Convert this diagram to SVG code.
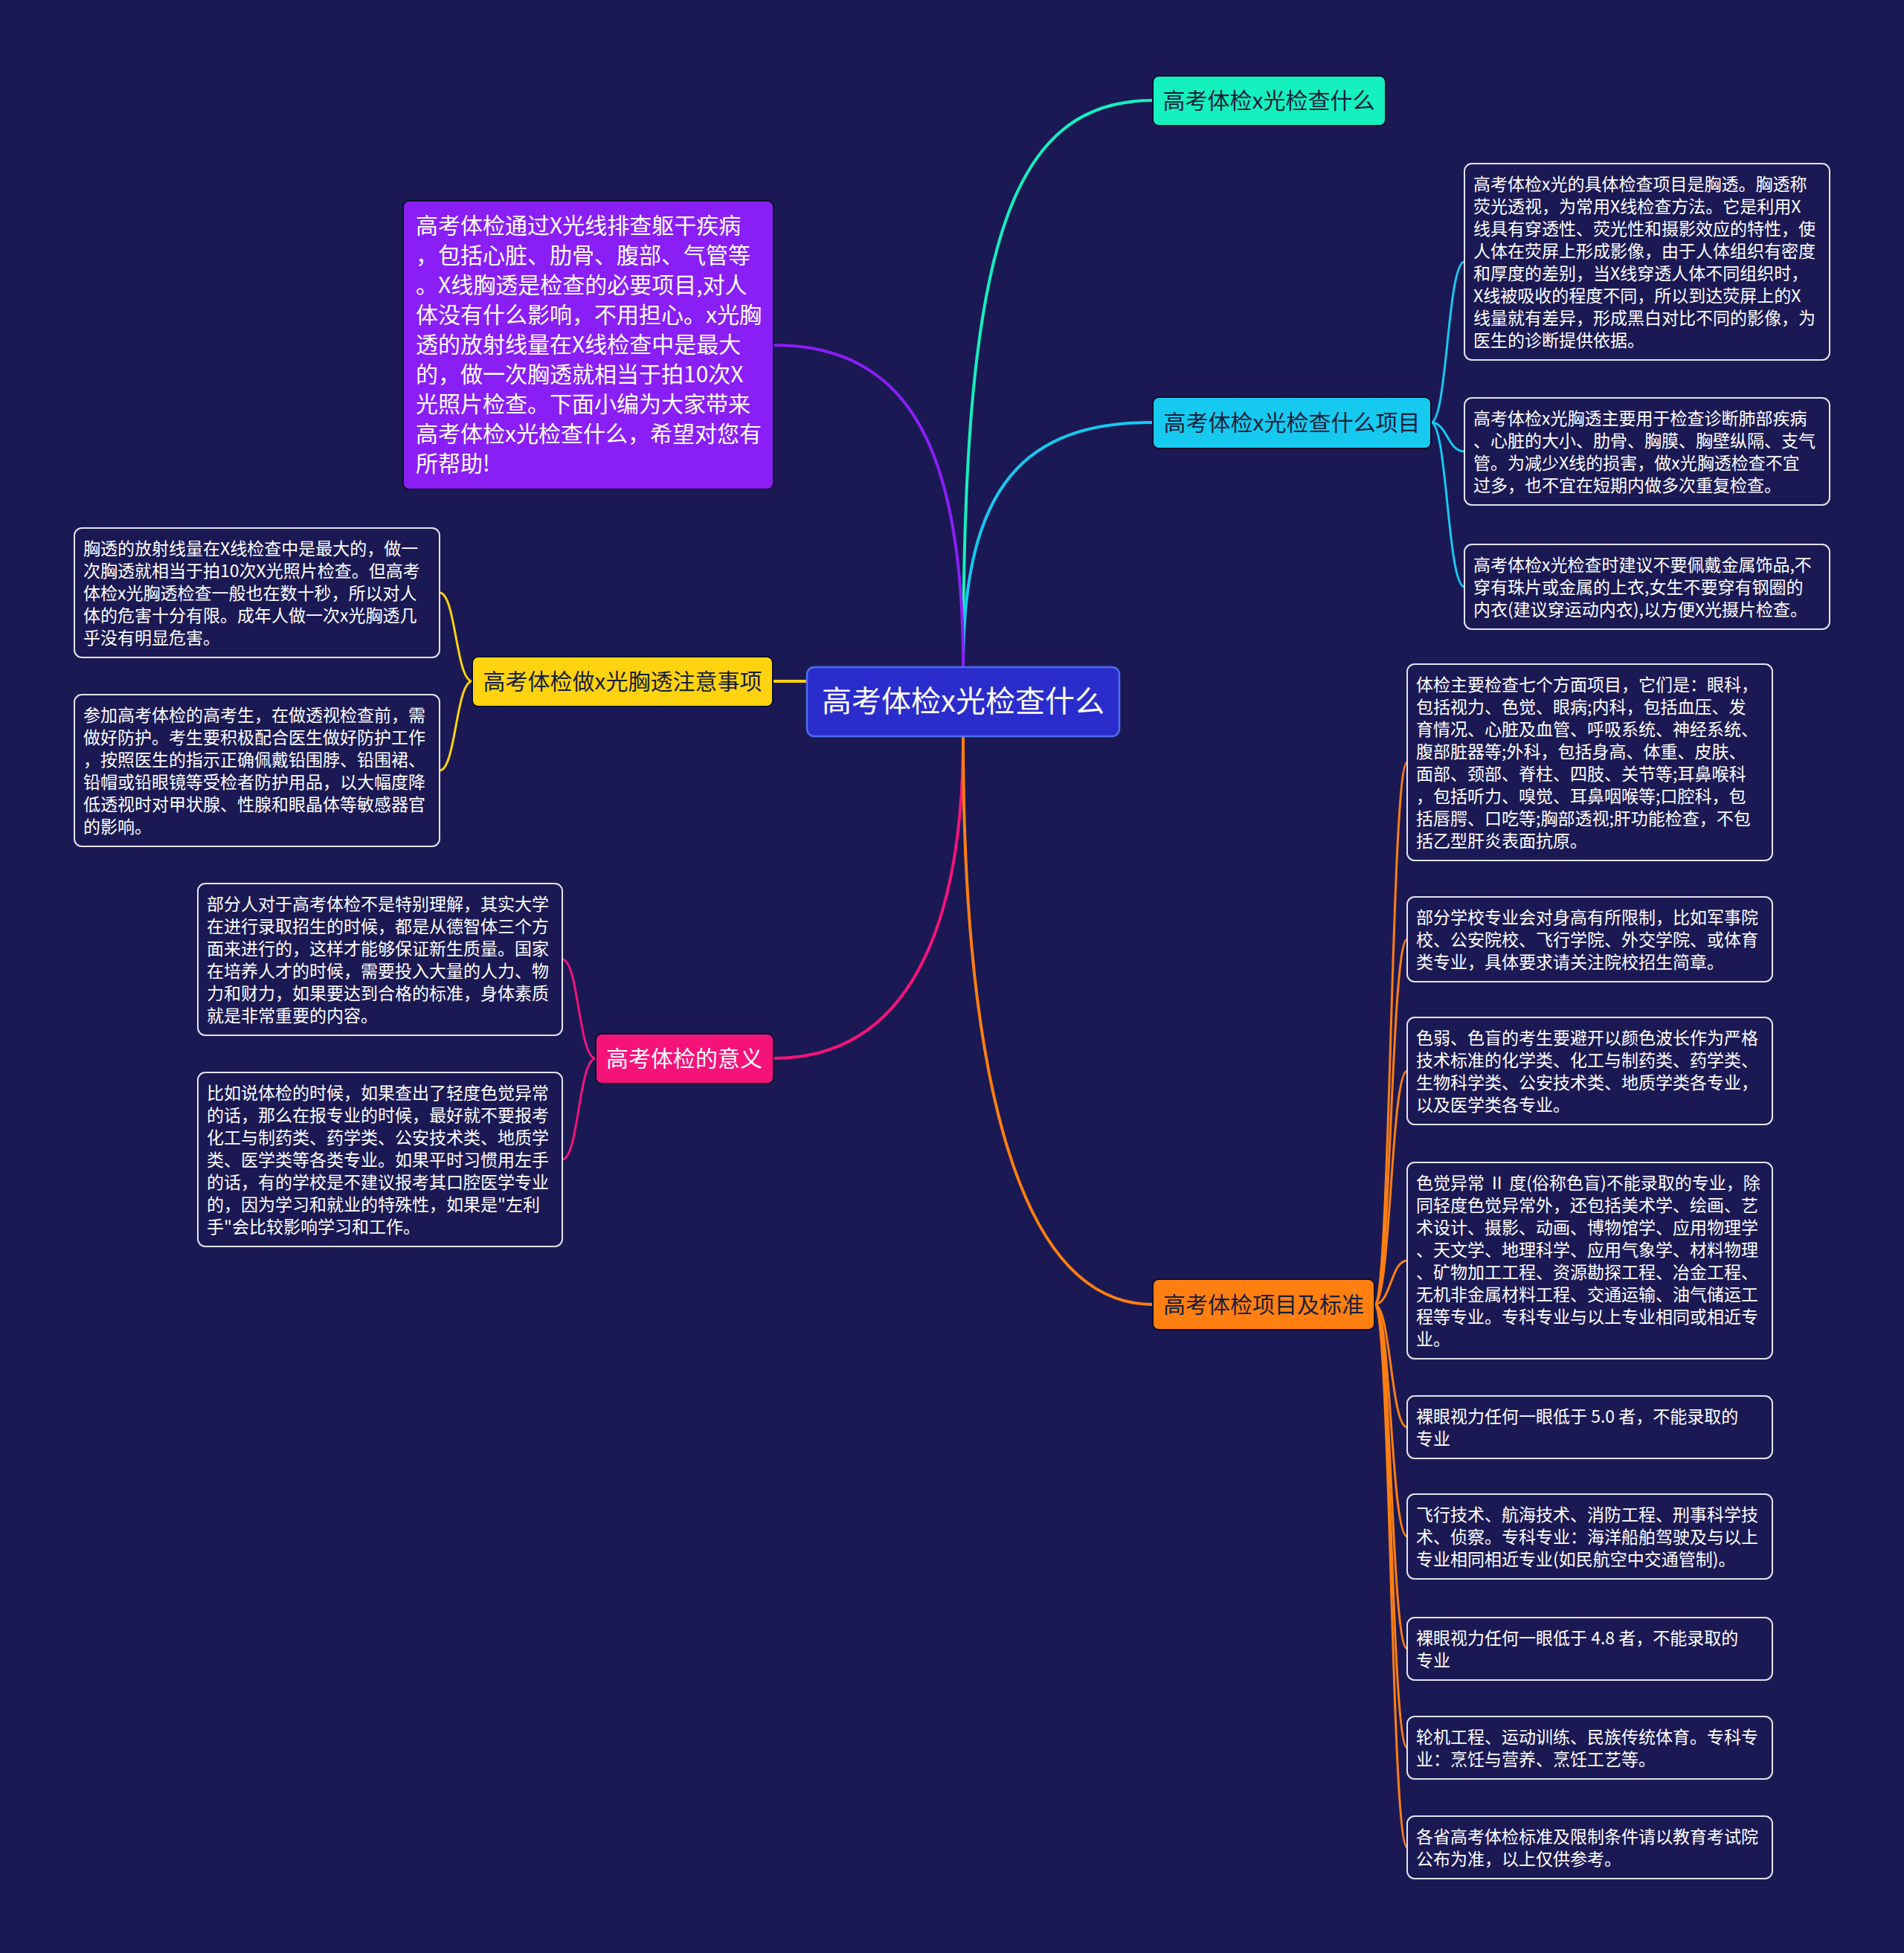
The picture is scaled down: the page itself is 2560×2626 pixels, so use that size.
<svg xmlns="http://www.w3.org/2000/svg" width="2560" height="2626" viewBox="0 0 2560 2626">
<style>
.bg{fill:#1b1954}
.leaf rect{fill:#1b1954;stroke:#e4e4ef;stroke-width:2}
.leaf text{font-family:"Noto Sans CJK SC","Noto Sans",sans-serif;font-size:23px;fill:#ffffff}
.l1 rect{stroke:#0c0c2a;stroke-width:2}
.l1 text{font-family:"Noto Sans CJK SC","Noto Sans",sans-serif;font-size:30px;text-anchor:middle}
.dark{fill:#17203a}
.light{fill:#ffffff}
.main{fill:none;stroke-width:4;stroke-linecap:round}
.sub{fill:none;stroke-width:3;stroke-linecap:round}
</style>
<rect class="bg" x="0" y="0" width="2560" height="2626"/>
<g id="connectors">
<path class="main" stroke="#14f0be" d="M1295,897 C1295,350 1350,135 1550,135"/>
<path class="main" stroke="#16c9ef" d="M1295,897 C1295,650 1380,568 1550,568"/>
<path class="main" stroke="#8a1ff5" d="M1295,897 C1295,600 1220,464 1040,464"/>
<path class="main" stroke="#ffd30f" d="M1085,916 L1040,916"/>
<path class="main" stroke="#f5137a" d="M1295,990 C1295,1250 1220,1423 1040,1423"/>
<path class="main" stroke="#ff7f11" d="M1295,990 C1295,1450 1370,1754 1550,1754"/>
<g stroke="#16c9ef">
<path class="sub" d="M1924,568 C1946,568 1946,352 1969,352"/>
<path class="sub" d="M1924,568 C1946,568 1946,607 1969,607"/>
<path class="sub" d="M1924,568 C1946,568 1946,789 1969,789"/>
</g>
<g stroke="#ffd30f">
<path class="sub" d="M635,916 C613,916 613,797 591,797"/>
<path class="sub" d="M635,916 C613,916 613,1036 591,1036"/>
</g>
<g stroke="#f5137a">
<path class="sub" d="M801,1423 C778,1423 778,1290 756,1290"/>
<path class="sub" d="M801,1423 C778,1423 778,1559 756,1559"/>
</g>
<g stroke="#ff7f11">
<path class="sub" d="M1848,1754 C1870,1754 1870,1025 1892,1025"/>
<path class="sub" d="M1848,1754 C1870,1754 1870,1263 1892,1263"/>
<path class="sub" d="M1848,1754 C1870,1754 1870,1440 1892,1440"/>
<path class="sub" d="M1848,1754 C1870,1754 1870,1695 1892,1695"/>
<path class="sub" d="M1848,1754 C1870,1754 1870,1919 1892,1919"/>
<path class="sub" d="M1848,1754 C1870,1754 1870,2066 1892,2066"/>
<path class="sub" d="M1848,1754 C1870,1754 1870,2217 1892,2217"/>
<path class="sub" d="M1848,1754 C1870,1754 1870,2350 1892,2350"/>
<path class="sub" d="M1848,1754 C1870,1754 1870,2484 1892,2484"/>
</g>
</g>
<g id="root">
<rect x="1085" y="897" width="420" height="93" rx="10" fill="#2b2ccc" stroke="#4c6ff0" stroke-width="2.5"/>
<text x="1295" y="957" font-family="'Noto Sans CJK SC','Noto Sans',sans-serif" font-size="40" fill="#ffffff" text-anchor="middle">高考体检x光检查什么</text>
</g>
<g id="n-teal" class="l1">
<rect x="1550" y="102" width="313" height="67" rx="8" fill="#14f0be"/>
<text class="dark" x="1706" y="146">高考体检x光检查什么</text>
</g>
<g id="n-cyan" class="l1">
<rect x="1550" y="534" width="374" height="69" rx="8" fill="#16c9ef"/>
<text class="dark" x="1737" y="579">高考体检x光检查什么项目</text>
</g>
<g id="n-orange" class="l1">
<rect x="1550" y="1720" width="298" height="68" rx="8" fill="#ff7f11"/>
<text class="dark" x="1699" y="1765">高考体检项目及标准</text>
</g>
<g id="n-yellow" class="l1">
<rect x="635" y="883" width="404" height="67" rx="8" fill="#ffd30f"/>
<text class="dark" x="837" y="927">高考体检做x光胸透注意事项</text>
</g>
<g id="n-pink" class="l1">
<rect x="801" y="1390" width="239" height="67" rx="8" fill="#f5137a"/>
<text class="light" x="920" y="1434">高考体检的意义</text>
</g>
<g id="n-purple" class="l1">
<rect x="542" y="270" width="498" height="388" rx="8" fill="#8a1ff5"/>
<text class="light" style="text-anchor:start" x="559">
<tspan x="559" y="314">高考体检通过X光线排查躯干疾病</tspan>
<tspan x="559" y="354">，包括心脏、肋骨、腹部、气管等</tspan>
<tspan x="559" y="394">。X线胸透是检查的必要项目,对人</tspan>
<tspan x="559" y="434">体没有什么影响，不用担心。x光胸</tspan>
<tspan x="559" y="474">透的放射线量在X线检查中是最大</tspan>
<tspan x="559" y="514">的，做一次胸透就相当于拍10次X</tspan>
<tspan x="559" y="554">光照片检查。下面小编为大家带来</tspan>
<tspan x="559" y="594">高考体检x光检查什么，希望对您有</tspan>
<tspan x="559" y="634">所帮助!</tspan>
</text>
</g>
<g id="leaf-a" class="leaf">
<rect x="1969" y="220" width="491" height="264" rx="10"/>
<text>
<tspan x="1981" y="256">高考体检x光的具体检查项目是胸透。胸透称</tspan>
<tspan x="1981" y="286">荧光透视，为常用X线检查方法。它是利用X</tspan>
<tspan x="1981" y="316">线具有穿透性、荧光性和摄影效应的特性，使</tspan>
<tspan x="1981" y="346">人体在荧屏上形成影像，由于人体组织有密度</tspan>
<tspan x="1981" y="376">和厚度的差别，当X线穿透人体不同组织时，</tspan>
<tspan x="1981" y="406">X线被吸收的程度不同，所以到达荧屏上的X</tspan>
<tspan x="1981" y="436">线量就有差异，形成黑白对比不同的影像，为</tspan>
<tspan x="1981" y="466">医生的诊断提供依据。</tspan>
</text>
</g>
<g id="leaf-b" class="leaf">
<rect x="1969" y="535" width="491" height="144" rx="10"/>
<text>
<tspan x="1981" y="571">高考体检x光胸透主要用于检查诊断肺部疾病</tspan>
<tspan x="1981" y="601">、心脏的大小、肋骨、胸膜、胸壁纵隔、支气</tspan>
<tspan x="1981" y="631">管。为减少X线的损害，做x光胸透检查不宜</tspan>
<tspan x="1981" y="661">过多，也不宜在短期内做多次重复检查。</tspan>
</text>
</g>
<g id="leaf-c" class="leaf">
<rect x="1969" y="732" width="491" height="114" rx="10"/>
<text>
<tspan x="1981" y="768">高考体检x光检查时建议不要佩戴金属饰品,不</tspan>
<tspan x="1981" y="798">穿有珠片或金属的上衣,女生不要穿有钢圈的</tspan>
<tspan x="1981" y="828">内衣(建议穿运动内衣),以方便X光摄片检查。</tspan>
</text>
</g>
<g id="leaf-d" class="leaf">
<rect x="100" y="710" width="491" height="174" rx="10"/>
<text>
<tspan x="112" y="746">胸透的放射线量在X线检查中是最大的，做一</tspan>
<tspan x="112" y="776">次胸透就相当于拍10次X光照片检查。但高考</tspan>
<tspan x="112" y="806">体检x光胸透检查一般也在数十秒，所以对人</tspan>
<tspan x="112" y="836">体的危害十分有限。成年人做一次x光胸透几</tspan>
<tspan x="112" y="866">乎没有明显危害。</tspan>
</text>
</g>
<g id="leaf-e" class="leaf">
<rect x="100" y="934" width="491" height="204" rx="10"/>
<text>
<tspan x="112" y="970">参加高考体检的高考生，在做透视检查前，需</tspan>
<tspan x="112" y="1000">做好防护。考生要积极配合医生做好防护工作</tspan>
<tspan x="112" y="1030">，按照医生的指示正确佩戴铅围脖、铅围裙、</tspan>
<tspan x="112" y="1060">铅帽或铅眼镜等受检者防护用品，以大幅度降</tspan>
<tspan x="112" y="1090">低透视时对甲状腺、性腺和眼晶体等敏感器官</tspan>
<tspan x="112" y="1120">的影响。</tspan>
</text>
</g>
<g id="leaf-f" class="leaf">
<rect x="266" y="1188" width="490" height="204" rx="10"/>
<text>
<tspan x="278" y="1224">部分人对于高考体检不是特别理解，其实大学</tspan>
<tspan x="278" y="1254">在进行录取招生的时候，都是从德智体三个方</tspan>
<tspan x="278" y="1284">面来进行的，这样才能够保证新生质量。国家</tspan>
<tspan x="278" y="1314">在培养人才的时候，需要投入大量的人力、物</tspan>
<tspan x="278" y="1344">力和财力，如果要达到合格的标准，身体素质</tspan>
<tspan x="278" y="1374">就是非常重要的内容。</tspan>
</text>
</g>
<g id="leaf-g" class="leaf">
<rect x="266" y="1442" width="490" height="234" rx="10"/>
<text>
<tspan x="278" y="1478">比如说体检的时候，如果查出了轻度色觉异常</tspan>
<tspan x="278" y="1508">的话，那么在报专业的时候，最好就不要报考</tspan>
<tspan x="278" y="1538">化工与制药类、药学类、公安技术类、地质学</tspan>
<tspan x="278" y="1568">类、医学类等各类专业。如果平时习惯用左手</tspan>
<tspan x="278" y="1598">的话，有的学校是不建议报考其口腔医学专业</tspan>
<tspan x="278" y="1628">的，因为学习和就业的特殊性，如果是"左利</tspan>
<tspan x="278" y="1658">手"会比较影响学习和工作。</tspan>
</text>
</g>
<g id="leaf-h" class="leaf">
<rect x="1892" y="893" width="491" height="264" rx="10"/>
<text>
<tspan x="1904" y="929">体检主要检查七个方面项目，它们是：眼科，</tspan>
<tspan x="1904" y="959">包括视力、色觉、眼病;内科，包括血压、发</tspan>
<tspan x="1904" y="989">育情况、心脏及血管、呼吸系统、神经系统、</tspan>
<tspan x="1904" y="1019">腹部脏器等;外科，包括身高、体重、皮肤、</tspan>
<tspan x="1904" y="1049">面部、颈部、脊柱、四肢、关节等;耳鼻喉科</tspan>
<tspan x="1904" y="1079">，包括听力、嗅觉、耳鼻咽喉等;口腔科，包</tspan>
<tspan x="1904" y="1109">括唇腭、口吃等;胸部透视;肝功能检查，不包</tspan>
<tspan x="1904" y="1139">括乙型肝炎表面抗原。</tspan>
</text>
</g>
<g id="leaf-i" class="leaf">
<rect x="1892" y="1206" width="491" height="114" rx="10"/>
<text>
<tspan x="1904" y="1242">部分学校专业会对身高有所限制，比如军事院</tspan>
<tspan x="1904" y="1272">校、公安院校、飞行学院、外交学院、或体育</tspan>
<tspan x="1904" y="1302">类专业，具体要求请关注院校招生简章。</tspan>
</text>
</g>
<g id="leaf-j" class="leaf">
<rect x="1892" y="1368" width="491" height="144" rx="10"/>
<text>
<tspan x="1904" y="1404">色弱、色盲的考生要避开以颜色波长作为严格</tspan>
<tspan x="1904" y="1434">技术标准的化学类、化工与制药类、药学类、</tspan>
<tspan x="1904" y="1464">生物科学类、公安技术类、地质学类各专业，</tspan>
<tspan x="1904" y="1494">以及医学类各专业。</tspan>
</text>
</g>
<g id="leaf-k" class="leaf">
<rect x="1892" y="1563" width="491" height="264" rx="10"/>
<text>
<tspan x="1904" y="1599">色觉异常 Ⅱ 度(俗称色盲)不能录取的专业，除</tspan>
<tspan x="1904" y="1629">同轻度色觉异常外，还包括美术学、绘画、艺</tspan>
<tspan x="1904" y="1659">术设计、摄影、动画、博物馆学、应用物理学</tspan>
<tspan x="1904" y="1689">、天文学、地理科学、应用气象学、材料物理</tspan>
<tspan x="1904" y="1719">、矿物加工工程、资源勘探工程、冶金工程、</tspan>
<tspan x="1904" y="1749">无机非金属材料工程、交通运输、油气储运工</tspan>
<tspan x="1904" y="1779">程等专业。专科专业与以上专业相同或相近专</tspan>
<tspan x="1904" y="1809">业。</tspan>
</text>
</g>
<g id="leaf-l" class="leaf">
<rect x="1892" y="1877" width="491" height="84" rx="10"/>
<text>
<tspan x="1904" y="1913">裸眼视力任何一眼低于 5.0 者，不能录取的</tspan>
<tspan x="1904" y="1943">专业</tspan>
</text>
</g>
<g id="leaf-m" class="leaf">
<rect x="1892" y="2009" width="491" height="114" rx="10"/>
<text>
<tspan x="1904" y="2045">飞行技术、航海技术、消防工程、刑事科学技</tspan>
<tspan x="1904" y="2075">术、侦察。专科专业：海洋船舶驾驶及与以上</tspan>
<tspan x="1904" y="2105">专业相同相近专业(如民航空中交通管制)。</tspan>
</text>
</g>
<g id="leaf-n" class="leaf">
<rect x="1892" y="2175" width="491" height="84" rx="10"/>
<text>
<tspan x="1904" y="2211">裸眼视力任何一眼低于 4.8 者，不能录取的</tspan>
<tspan x="1904" y="2241">专业</tspan>
</text>
</g>
<g id="leaf-o" class="leaf">
<rect x="1892" y="2308" width="491" height="84" rx="10"/>
<text>
<tspan x="1904" y="2344">轮机工程、运动训练、民族传统体育。专科专</tspan>
<tspan x="1904" y="2374">业：烹饪与营养、烹饪工艺等。</tspan>
</text>
</g>
<g id="leaf-p" class="leaf">
<rect x="1892" y="2442" width="491" height="84" rx="10"/>
<text>
<tspan x="1904" y="2478">各省高考体检标准及限制条件请以教育考试院</tspan>
<tspan x="1904" y="2508">公布为准，以上仅供参考。</tspan>
</text>
</g>
</svg>
